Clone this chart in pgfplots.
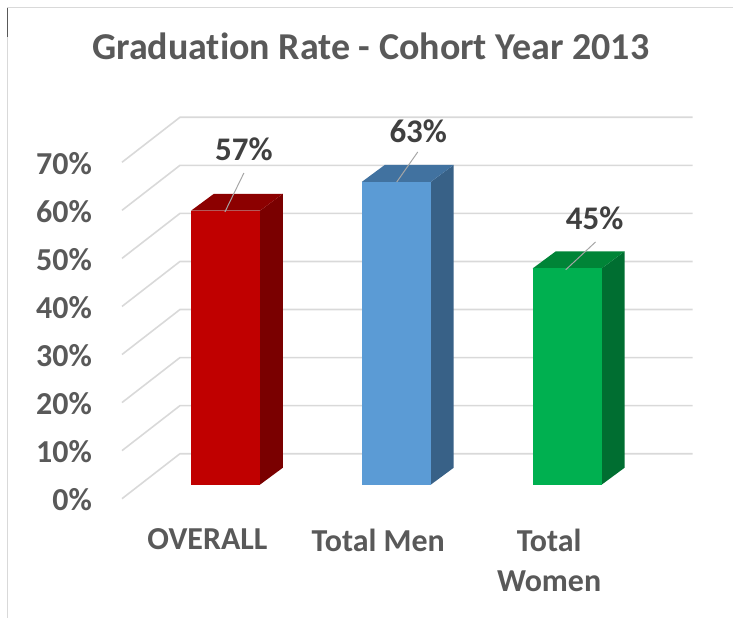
\documentclass[border=0pt]{standalone}
\usepackage{pgfplots}
\pgfplotsset{compat=1.18}
\usepackage{pgfplotstable}
\usepackage{fontspec}
\setmainfont{Carlito}[Ligatures=NoCommon]

\definecolor{txt}{HTML}{595959}
\definecolor{lbl}{HTML}{404040}
\definecolor{gridc}{HTML}{D9D9D9}
\definecolor{leader}{HTML}{A6A6A6}
\definecolor{redF}{HTML}{C00000}
\definecolor{redS}{HTML}{7A0000}
\definecolor{redT}{HTML}{8C0000}
\definecolor{bluF}{HTML}{5B9BD5}
\definecolor{bluS}{HTML}{386187}
\definecolor{bluT}{HTML}{4172A0}
\definecolor{grnF}{HTML}{00B050}
\definecolor{grnS}{HTML}{006E31}
\definecolor{grnT}{HTML}{008437}

% corners of a unit parallelogram (t = depth, s = along the face)
\pgfplotstableread{
t s
0 0
1 0
1 1
0 1
}\facecorners

% gridline path: front edge of floor -> back wall left -> back wall right
\pgfplotstableread{
x q
-0.6053 -2.911
-0.2661 6.445
2.7339 6.445
}\gridpath

% #1 x position, #2 value, #3 front, #4 side, #5 top, #6 label xshift, #7 label yshift
\newcommand{\threedbar}[7]{%
  \addplot[fill=#4, draw=none] table[x expr={#1+0.20175+\thisrow{t}*0.1345},
      y expr={\thisrow{s}*#2+\thisrow{t}*3.534}] {\facecorners};
  \addplot[fill=#5, draw=none] table[x expr={#1-0.20175+\thisrow{s}*0.4035+\thisrow{t}*0.1345},
      y expr={#2+\thisrow{t}*3.534}] {\facecorners};
  \addplot[ybar, bar width=0.4035, fill=#3, draw=none,
      nodes near coords={\pgfmathprintnumber{\pgfplotspointmeta}\%},
      every node near coord/.append style={anchor=center, inner sep=0pt,
        xshift=#6pt, yshift=#7pt, text=lbl,
        font=\fontsize{33}{40}\selectfont\bfseries}]
      coordinates {(#1,#2)};
}

\begin{document}
\begin{tikzpicture}
\begin{axis}[
  /pgf/number format/assume math mode=true,
  scale only axis,
  width=733pt, height=618pt,
  xmin=-1.31871, xmax=2.96784,
  ymin=-27.651, ymax=100.83,
  axis line style={draw=none},
  major tick length=0pt,
  clip=false,
  ytick={0,10,...,70},
  yticklabel={\pgfmathprintnumber{\tick}\%},
  yticklabel style={anchor=east, inner sep=0pt, xshift=92pt, yshift=-15pt,
    text=txt, font=\fontsize{32}{38}\selectfont\bfseries},
  xtick={0,1,2},
  xticklabels={OVERALL, Total Men, Total\\Women},
  xticklabel style={anchor=north, inner sep=0pt, align=center,
    xshift=-18pt, yshift=89pt,
    text=txt, font=\fontsize{32}{40}\selectfont\bfseries},
  title={Graduation Rate - Cohort Year 2013},
  title style={at={(rel axis cs:0.506,0.894)}, anchor=base, inner sep=0pt,
    text=txt, font=\fontsize{38}{44}\selectfont\bfseries},
]
% gridlines
\pgfplotsinvokeforeach{0,10,...,70}{
  \addplot[gridc, line width=1.6pt, no marks] table[x=x, y expr={\thisrow{q}+#1}] {\gridpath};
}
% bars
\threedbar{0}{57}{redF}{redS}{redT}{18.5}{61.8}
\threedbar{1}{63}{bluF}{bluS}{bluT}{22}{51}
\threedbar{2}{45}{grnF}{grnS}{grnT}{27.5}{50.5}
% leader lines
\addplot[leader, line width=1pt, no marks] coordinates {(0.1082,64.86) (-0.0029,56.76)};
\addplot[leader, line width=1pt, no marks] coordinates {(1.1257,69.23) (1.0029,62.99)};
\addplot[leader, line width=1pt, no marks] coordinates {(2.1667,50.52) (1.9912,44.70)};
% chart border
\draw[gridc, line width=1pt] (rel axis cs:0.00955,0) -- (rel axis cs:0.00955,0.98867) -- (rel axis cs:1,0.98867);
\draw[txt, line width=1pt] (rel axis cs:0.00955,0.9403) -- (rel axis cs:0.00955,0.98705);
\end{axis}
\end{tikzpicture}
\end{document}
